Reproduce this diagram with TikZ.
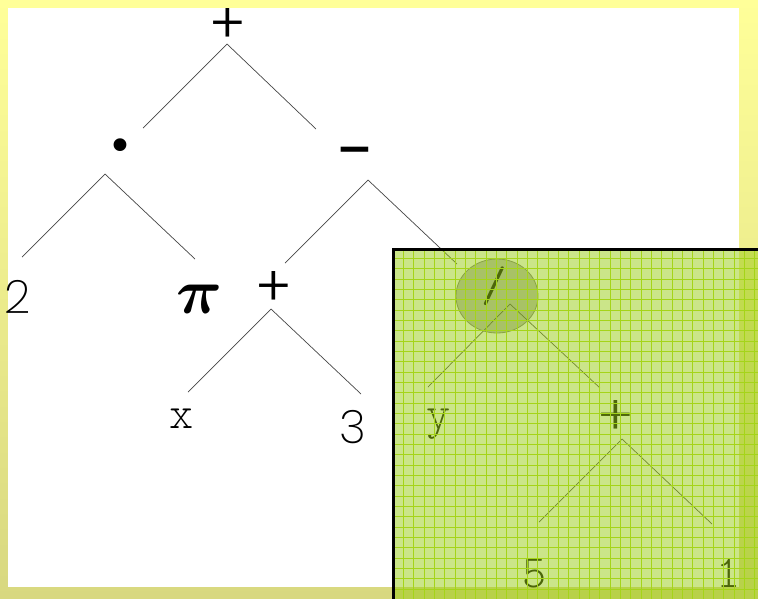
\documentclass[tikz,border=0pt]{standalone}
\usepackage{bm}
\usepackage{fontspec}
\newfontfamily\dsans{DejaVu Sans}
\newfontfamily\thin{Poppins ExtraLight}
\newfontfamily\light{Poppins Light}
\newcommand{\cour}{\fontfamily{lmtt}\fontseries{l}\selectfont}
\definecolor{ytop}{RGB}{255,255,153}
\definecolor{ybot}{RGB}{216,216,128}
\definecolor{ovl}{RGB}{153,204,20}
\definecolor{gridc}{RGB}{165,212,25}
\definecolor{edgec}{RGB}{70,70,70}
\definecolor{ellf}{RGB}{185,185,185}
\definecolor{elld}{RGB}{120,120,120}
\begin{document}
\begin{tikzpicture}[x=1pt,y=-1pt,
  lbl/.style={inner sep=0pt, anchor=base, text=black},
  dig/.style={lbl, font=\fontsize{46}{46}\selectfont\thin},
  let/.style={lbl, font=\fontsize{46}{46}\cour},
  plus/.style={lbl, font=\fontsize{56}{56}\selectfont\light},
  edge/.style={draw=edgec, line width=0.7pt}]
\useasboundingbox (0,0) rectangle (758,598);
\shade[top color=ytop, bottom color=ybot] (0,0) rectangle (758,598);
\fill[white] (8,8) rectangle (739,587);

% ellipse around slash
\fill[ellf, draw=elld, line width=0.8pt] (497,296) ellipse [x radius=41, y radius=37];

% nodes
\node[plus] (root) at (228,43) {+};
\node[lbl, font=\fontsize{44}{44}\selectfont\dsans] (dot) at (120,161) {•};
\node[lbl, font=\fontsize{44}{44}\selectfont\bfseries\dsans] (minus) at (355,163) {−};
\node[dig] (two) at (18,313) {2};
\node[lbl, scale=6.4] (pi) at (200,313) {$\bm{\pi}$};
\node[plus] (plusA) at (274,306) {+};
\node[let] (x) at (182,428) {x};
\node[dig] (three) at (353,443) {3};
\node[lbl, font=\fontsize{50}{50}\ttfamily] (slash) at (494,301) {/};
\node[let] (y) at (439,428) {y};
\node[plus] (plusB) at (616,435) {+};
\node[let] (five) at (535,587) {5};
\node[let] (one) at (729,587) {1};

% connector end points
\coordinate (root-a) at (227,44);  \coordinate (root-l) at (143,128); \coordinate (root-r) at (316,129);
\coordinate (dot-a) at (105,174);  \coordinate (dot-l) at (22,257);   \coordinate (dot-r) at (195,259);
\coordinate (min-a) at (368,180);  \coordinate (min-l) at (285,263);  \coordinate (min-r) at (457,264);
\coordinate (pA-a) at (271,309);   \coordinate (pA-l) at (188,392);   \coordinate (pA-r) at (361,394);
\coordinate (sl-a) at (510,304);   \coordinate (sl-l) at (428,387);   \coordinate (sl-r) at (600,388);
\coordinate (pB-a) at (622,439);   \coordinate (pB-l) at (539,522);   \coordinate (pB-r) at (712,524);

\draw[edge] (root-l) -- (root-a) -- (root-r);
\draw[edge] (dot-l) -- (dot-a) -- (dot-r);
\draw[edge] (min-l) -- (min-a) -- (min-r);
\draw[edge] (pA-l) -- (pA-a) -- (pA-r);
\draw[edge] (sl-l) -- (sl-a) -- (sl-r);
\draw[edge] (pB-l) -- (pB-a) -- (pB-r);

% green overlay
\fill[ovl, fill opacity=0.5] (393,248) rectangle (760,600);
\begin{scope}
  \clip (393,248) rectangle (758,598);
  \foreach \i in {1,...,36} {\draw[gridc, line width=0.7pt] (393+\i*10.33,248) -- ++(0,360);}
  \foreach \j in {1,...,35} {\draw[gridc, line width=0.7pt] (393,248+\j*10.33) -- ++(370,0);}
\end{scope}
\draw[black, line width=3pt] (393.5,610) -- (393.5,249) -- (770,249);
\end{tikzpicture}
\end{document}
